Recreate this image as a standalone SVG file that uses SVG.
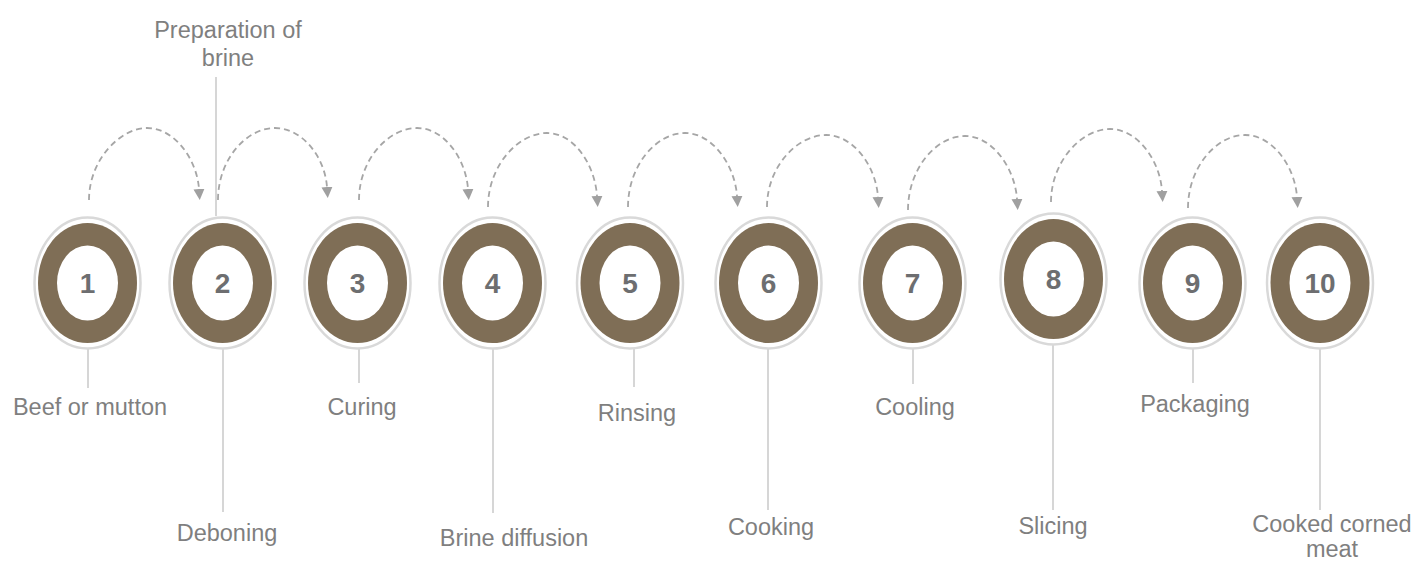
<svg xmlns="http://www.w3.org/2000/svg" width="1418" height="563" viewBox="0 0 1418 563">
<style>
.outer{fill:#fff;stroke:#d9d9d9;stroke-width:2.5}
.ring{fill:#7f6e56}
.inner{fill:#fff}
.num{font-family:"Liberation Sans",Arial,sans-serif;font-size:28px;font-weight:bold;fill:#6d6e70;text-anchor:middle}
.lbl{font-family:"Liberation Sans",Arial,sans-serif;font-size:23.5px;fill:#7f7f7f;text-anchor:middle}
.lead{stroke:#c8c8c8;stroke-width:1.5;fill:none}
.arc{stroke:#a6a6a6;stroke-width:1.8;fill:none;stroke-dasharray:6 4;marker-end:url(#ah)}
</style>
<defs>
<marker id="ah" markerUnits="userSpaceOnUse" markerWidth="12" markerHeight="12" refX="0" refY="5.5" orient="auto" viewBox="0 0 12 11">
<path d="M0,0 L11,5.5 L0,11 z" fill="#a0a0a0"/>
</marker>
</defs>
<g id="connectors">
<path class="arc" d="M89,200 C89,160 120,128 147,128 C175,128 197,160 199,189"/>
<path class="arc" d="M218,200 C218,160 246,128 275,128 C303,128 325,158 327,187"/>
<path class="arc" d="M359,200 C359,160 388,128 417,128 C445,128 466,160 468,189"/>
<path class="arc" d="M488,207 C488,166 518,133 547,133 C575,133 595,166 597,196"/>
<path class="arc" d="M628,207 C628,166 656,133 685,133 C713,133 735,166 737,196"/>
<path class="arc" d="M767,207 C767,167 797,135 826,135 C854,135 876,167 878,197"/>
<path class="arc" d="M908,210 C908,169 936,136 965,136 C993,136 1015,169 1017,199"/>
<path class="arc" d="M1051,202 C1051,162 1081,129 1110,129 C1138,129 1160,161 1162,191"/>
<path class="arc" d="M1188,208 C1188,168 1216,135 1245,135 C1273,135 1295,167 1297,197"/>
<line class="lead" x1="216" y1="77" x2="216" y2="216"/>
<line class="lead" x1="88" y1="349" x2="88" y2="388"/>
<line class="lead" x1="223" y1="349" x2="223" y2="512"/>
<line class="lead" x1="359" y1="349" x2="359" y2="383"/>
<line class="lead" x1="493" y1="349" x2="493" y2="513"/>
<line class="lead" x1="634" y1="349" x2="634" y2="387"/>
<line class="lead" x1="768" y1="349" x2="768" y2="510"/>
<line class="lead" x1="913" y1="349" x2="913" y2="384"/>
<line class="lead" x1="1053" y1="345" x2="1053" y2="510"/>
<line class="lead" x1="1193" y1="349" x2="1193" y2="383"/>
<line class="lead" x1="1320" y1="349" x2="1320" y2="510"/>
</g>
<g id="node1"><ellipse class="outer" cx="87.5" cy="283" rx="53" ry="65.5"/><ellipse class="ring" cx="87.5" cy="283" rx="49.5" ry="60"/><ellipse class="inner" cx="87.5" cy="283" rx="30.5" ry="37.5"/><text class="num" x="87.5" y="293">1</text><text class="lbl" x="90" y="415">Beef or mutton</text></g>
<g id="node2"><ellipse class="outer" cx="222.5" cy="283" rx="53" ry="65.5"/><ellipse class="ring" cx="222.5" cy="283" rx="49.5" ry="60"/><ellipse class="inner" cx="222.5" cy="283" rx="30.5" ry="37.5"/><text class="num" x="222.5" y="293">2</text><text class="lbl" x="228" y="38">Preparation of</text><text class="lbl" x="228" y="66">brine</text><text class="lbl" x="227" y="541">Deboning</text></g>
<g id="node3"><ellipse class="outer" cx="357.5" cy="283" rx="53" ry="65.5"/><ellipse class="ring" cx="357.5" cy="283" rx="49.5" ry="60"/><ellipse class="inner" cx="357.5" cy="283" rx="30.5" ry="37.5"/><text class="num" x="357.5" y="293">3</text><text class="lbl" x="362" y="415">Curing</text></g>
<g id="node4"><ellipse class="outer" cx="492.5" cy="283" rx="53" ry="65.5"/><ellipse class="ring" cx="492.5" cy="283" rx="49.5" ry="60"/><ellipse class="inner" cx="492.5" cy="283" rx="30.5" ry="37.5"/><text class="num" x="492.5" y="293">4</text><text class="lbl" x="514" y="546">Brine diffusion</text></g>
<g id="node5"><ellipse class="outer" cx="630" cy="283" rx="53" ry="65.5"/><ellipse class="ring" cx="630" cy="283" rx="49.5" ry="60"/><ellipse class="inner" cx="630" cy="283" rx="30.5" ry="37.5"/><text class="num" x="630" y="293">5</text><text class="lbl" x="637" y="421">Rinsing</text></g>
<g id="node6"><ellipse class="outer" cx="768.5" cy="283" rx="53" ry="65.5"/><ellipse class="ring" cx="768.5" cy="283" rx="49.5" ry="60"/><ellipse class="inner" cx="768.5" cy="283" rx="30.5" ry="37.5"/><text class="num" x="768.5" y="293">6</text><text class="lbl" x="771" y="535">Cooking</text></g>
<g id="node7"><ellipse class="outer" cx="912.5" cy="283" rx="53" ry="65.5"/><ellipse class="ring" cx="912.5" cy="283" rx="49.5" ry="60"/><ellipse class="inner" cx="912.5" cy="283" rx="30.5" ry="37.5"/><text class="num" x="912.5" y="293">7</text><text class="lbl" x="915" y="415">Cooling</text></g>
<g id="node8"><ellipse class="outer" cx="1053.5" cy="279" rx="53" ry="65.5"/><ellipse class="ring" cx="1053.5" cy="279" rx="49.5" ry="60"/><ellipse class="inner" cx="1053.5" cy="279" rx="30.5" ry="37.5"/><text class="num" x="1053.5" y="289">8</text><text class="lbl" x="1053" y="534">Slicing</text></g>
<g id="node9"><ellipse class="outer" cx="1192.5" cy="283" rx="53" ry="65.5"/><ellipse class="ring" cx="1192.5" cy="283" rx="49.5" ry="60"/><ellipse class="inner" cx="1192.5" cy="283" rx="30.5" ry="37.5"/><text class="num" x="1192.5" y="293">9</text><text class="lbl" x="1195" y="412">Packaging</text></g>
<g id="node10"><ellipse class="outer" cx="1320" cy="283" rx="53" ry="65.5"/><ellipse class="ring" cx="1320" cy="283" rx="49.5" ry="60"/><ellipse class="inner" cx="1320" cy="283" rx="30.5" ry="37.5"/><text class="num" x="1320" y="293">10</text><text class="lbl" x="1332" y="532">Cooked corned</text><text class="lbl" x="1332" y="557">meat</text></g>
</svg>
